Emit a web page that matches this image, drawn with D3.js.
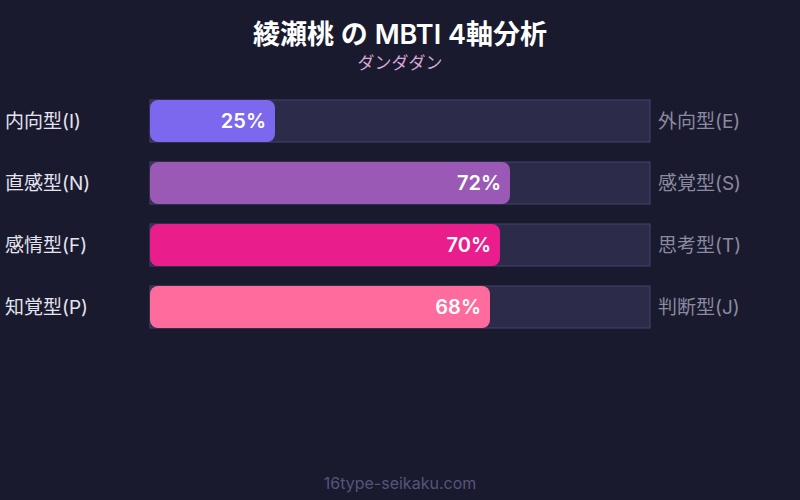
<!DOCTYPE html>
<html>
<head>
<meta charset="utf-8">
<script src="https://cdn.jsdelivr.net/npm/d3@7"></script>
<style>
  body { margin: 0; background: #1a1a2e; }
  text { font-family: Inter, "Noto Sans CJK JP", sans-serif; }
</style>
</head>
<body>
<div id="chart"></div>
<script>
var leftLabels = ["内向型(I)", "直感型(N)", "感情型(F)", "知覚型(P)"];
var rightLabels = ["外向型(E)", "感覚型(S)", "思考型(T)", "判断型(J)"];
var percents = [25, 72, 70, 68];
var colors = ["#7b68ee", "#9b59b6", "#e91e8c", "#ff6b9d"];

var width = 800, height = 500;
var svg = d3.select("#chart").append("svg")
  .attr("width", width).attr("height", height);

svg.append("rect").attr("width", width).attr("height", height).attr("fill", "#1a1a2e");

svg.append("text")
  .attr("x", width / 2).attr("y", 44)
  .attr("text-anchor", "middle")
  .attr("fill", "#ffffff")
  .attr("font-size", 27).attr("font-weight", 600)
  .text("綾瀬桃 の MBTI 4軸分析");

svg.append("text")
  .attr("x", width / 2).attr("y", 69)
  .attr("text-anchor", "middle")
  .attr("fill", "#d8a8d8")
  .attr("font-size", 17)
  .text("ダンダダン");

// 4 rows, step 62, bar height 42
var x = d3.scaleLinear().domain([0, 100]).range([150, 650]);
var y = d3.scaleBand().domain(d3.range(percents.length))
  .range([100, 100 + 62 * 4 - 20]).paddingInner(20 / 62);

var rows = svg.selectAll("g.row").data(percents).enter().append("g").attr("class", "row");

rows.append("rect")
  .attr("x", x(0)).attr("y", function (d, i) { return y(i); })
  .attr("width", x(100) - x(0)).attr("height", y.bandwidth())
  .attr("fill", "#2d2b4a").attr("stroke", "#44426a").attr("stroke-width", 1);

rows.append("rect")
  .attr("x", x(0)).attr("y", function (d, i) { return y(i); })
  .attr("width", function (d) { return x(d) - x(0); }).attr("height", y.bandwidth())
  .attr("rx", 8).attr("ry", 8)
  .attr("fill", function (d, i) { return colors[i]; });

rows.append("text")
  .attr("x", function (d) { return x(d) - 9; })
  .attr("y", function (d, i) { return y(i) + y.bandwidth() / 2; })
  .attr("dy", "0.36em")
  .attr("text-anchor", "end")
  .attr("fill", "#ffffff").attr("font-size", 20).attr("font-weight", 600)
  .text(function (d) { return d + "%"; });

rows.append("text")
  .attr("x", 5)
  .attr("y", function (d, i) { return y(i) + y.bandwidth() / 2; })
  .attr("dy", "0.36em")
  .attr("fill", "#e4e4f0").attr("font-size", 19)
  .text(function (d, i) { return leftLabels[i]; });

rows.append("text")
  .attr("x", 658)
  .attr("y", function (d, i) { return y(i) + y.bandwidth() / 2; })
  .attr("dy", "0.36em")
  .attr("fill", "#8a8aa0").attr("font-size", 19)
  .text(function (d, i) { return rightLabels[i]; });

svg.append("text")
  .attr("x", width / 2).attr("y", 489)
  .attr("text-anchor", "middle")
  .attr("fill", "#55557a").attr("font-size", 16)
  .text("16type-seikaku.com");
</script>
</body>
</html>
